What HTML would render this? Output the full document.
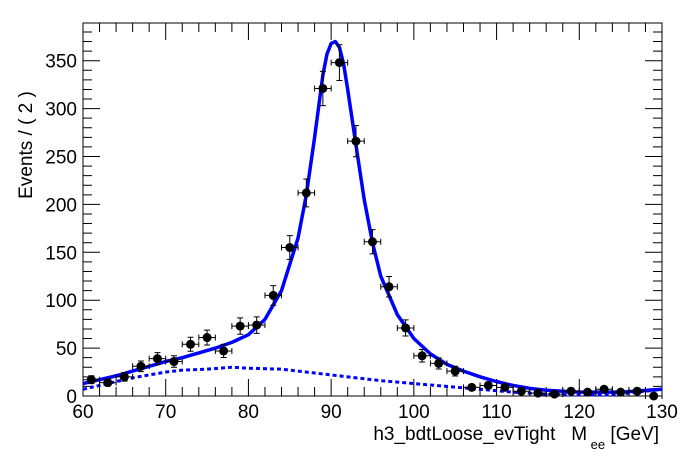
<!DOCTYPE html>
<html><head><meta charset="utf-8">
<style>
body{margin:0;background:#fff;}
svg{display:block;font-family:"Liberation Sans",sans-serif;}
</style></head>
<body>
<svg id="chart" width="696" height="472" viewBox="0 0 696 472">
<rect width="696" height="472" fill="#fff"/>
<g id="axes"></g>
<g id="curves"></g>
<g id="points"></g>
<text transform="translate(32,145) rotate(-90)" font-size="19" text-anchor="middle">Events / ( 2 )</text>
<text x="659" y="440" font-size="19" text-anchor="end" xml:space="preserve">h3_bdtLoose_evTight   M<tspan font-size="13" dy="9"> ee</tspan><tspan dy="-9"> [GeV]</tspan></text>
</svg>
<script>
const xCenters=[61,63,65,67,69,71,73,75,77,79,81,83,85,87,89,91,93,95,97,99,101,103,105,107,109,111,113,115,117,119,121,123,125,127,129];
const yCounts=[17,14,20,31,39,36,54,61,47,73,74,105,155,212,321,348,266,161,114,71,42,34,26,9,11,9,5,3,2,5,4,7,4,5,0];
const fitX=[60,62,64,66,68,70,72,74,76,78,80,82,84,86,87,88,89,89.5,90,90.5,91,91.5,92,93,94,95,96,98,100,102,104,106,108,110,112,114,116,118,120,125,130];
const fitY=[13,17,21,26,31,36,40,45,50,56,64,80,110,165,210,270,335,357,368,370,364,347,320,262,205,160,125,85,60,44,33,26,20,15,11,8,6,5,4,4,7];
const bkgX=[60,62,64,66,68,70,72,75,78,80,84,88,92,96,100,104,108,112,116,120,124,126,128,130];
const bkgY=[7,11,15,19,22,25,27,28,30,29,28,24,20,16,13,10,7,4,2,1,1,3,5,7];
const xTicks=[60,70,80,90,100,110,120,130];
const yTicks=[0,50,100,150,200,250,300,350];

const L=83,R=662,T=23,B=396;
const X=v=>L+(v-60)/70*(R-L);
const Y=v=>B-v*(B-60.7)/350;
const NS='http://www.w3.org/2000/svg';
function mk(tag,attrs,parent){const e=document.createElementNS(NS,tag);for(const k in attrs)e.setAttribute(k,attrs[k]);parent.appendChild(e);return e;}
const ax=document.getElementById('axes');
const fr=mk('rect',{x:L,y:T,width:R-L,height:B-T,fill:'none',stroke:'#000','stroke-width':1},ax);


let d='';
for(let v=60;v<=130;v+=2){const maj=v%10===0;const len=maj?17:9;const x=X(v);d+=`M${x},${B}v${-len}M${x},${T}v${len}`;}
for(let v=0;v<=390;v+=10){const maj=v%50===0;const len=maj?17:9;const y=Y(v);if(y<T)break;d+=`M${L},${y}h${len}M${R},${y}h${-len}`;}
const tk=mk('path',{d:d,stroke:'#000','stroke-width':1,fill:'none'},ax);


xTicks.forEach(v=>{const t=mk('text',{x:X(v),y:418,'font-size':19,'text-anchor':'middle'},ax);t.textContent=v;

});
yTicks.forEach(v=>{const t=mk('text',{x:L-6,y:Y(v)+7,'font-size':19,'text-anchor':'end'},ax);t.textContent=v;

});
const cg=document.getElementById('curves');
const bk=mk('polyline',{points:bkgX.map((x,i)=>X(x)+','+Y(bkgY[i])).join(' '),fill:'none',stroke:'#0000ff','stroke-width':3,'stroke-dasharray':'4,3'},cg);


const ft=mk('polyline',{points:fitX.map((x,i)=>X(x)+','+Y(fitY[i])).join(' '),fill:'none',stroke:'#0000ff','stroke-width':3.5,'stroke-linejoin':'round'},cg);


const pg=document.getElementById('points');
xCenters.forEach((xc,i)=>{const v=yCounts[i];const e=Math.sqrt(v);const x=X(xc),y=Y(v);
const g=mk('g',{},pg);


let p=`M${X(xc-1)},${y}H${X(xc+1)}M${X(xc-1)},${y-3}v6M${X(xc+1)},${y-3}v6`;
if(v>0)p+=`M${x},${Y(v+e)}V${Y(Math.max(0,v-e))}M${x-3},${Y(v+e)}h6M${x-3},${Y(Math.max(0,v-e))}h6`;
mk('path',{d:p,stroke:'#000','stroke-width':1,fill:'none'},g);
mk('circle',{cx:x,cy:y,r:4.5,fill:'#000'},g);});
</script>
</body></html>
